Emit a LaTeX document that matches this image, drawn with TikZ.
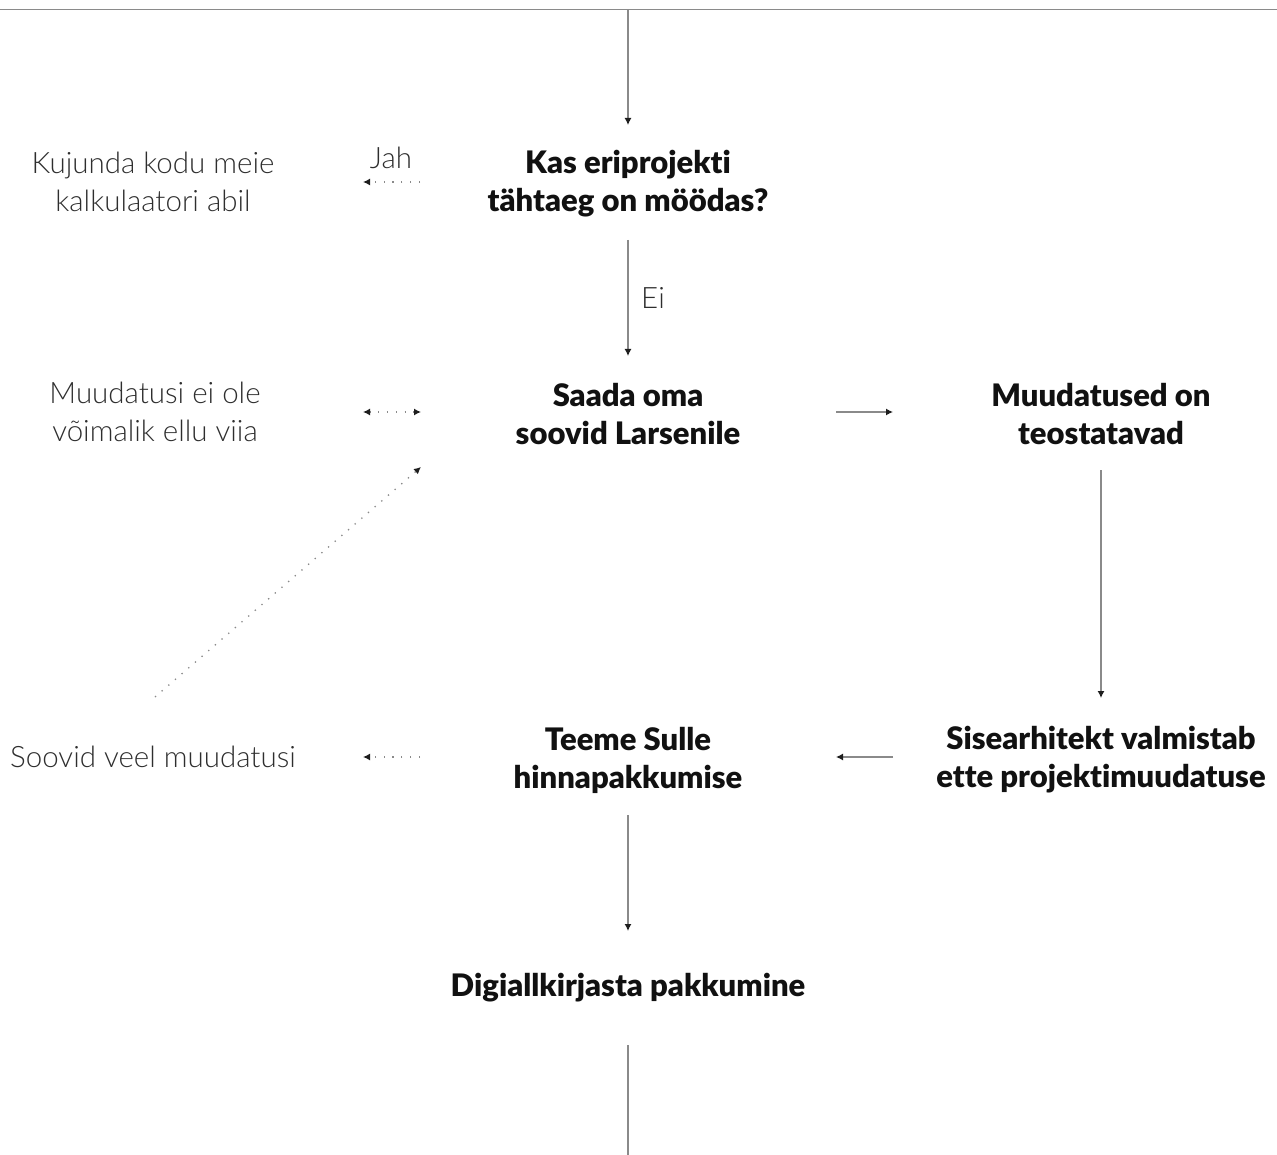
\documentclass[tikz,border=0pt]{standalone}
\usepackage{fontspec}
\setmainfont{Lato}
\newfontfamily\lightf{Lato Light}[RawFeature=-liga]
\newfontfamily\heavyf{Lato Black}[RawFeature=-liga]
\usetikzlibrary{arrows.meta}
\definecolor{linegray}{HTML}{8A8A8A}
\definecolor{tipdark}{HTML}{1E1E1E}
\definecolor{txtdark}{HTML}{111111}
\definecolor{txtlight}{HTML}{2E2E2E}
\tikzset{
  head/.style={font=\heavyf\fontsize{31}{38}\selectfont, text=txtdark, align=center, inner sep=0pt},
  side/.style={font=\lightf\fontsize{29.5}{38}\selectfont, text=txtlight, align=center, inner sep=0pt},
  flow/.style={draw=linegray, line width=1.2pt, -{Latex[length=7pt,width=7pt,color=tipdark]}},
  plain/.style={draw=linegray, line width=1.2pt},
  dotflow/.style={draw=linegray, line width=1.3pt, dash pattern=on 1.3pt off 7.5pt, -{Latex[length=7pt,width=7pt,color=tipdark]}},
  dotboth/.style={draw=linegray, line width=1.3pt, dash pattern=on 1.3pt off 7.5pt, {Latex[length=7pt,width=7pt,color=tipdark]}-{Latex[length=7pt,width=7pt,color=tipdark]}},
}
\begin{document}
\begin{tikzpicture}[x=1pt,y=-1pt]
\useasboundingbox (0,0) rectangle (1277,1155);
% top rule
\coordinate (tl) at (0,9.5);
\coordinate (tr) at (1277,9.5);
\draw[plain] (tl) -- (tr);
% texts
\node[head] (q) at (628,184) {Kas eriprojekti\\tähtaeg on möödas?};
\node[side] (calc) at (153,182) {Kujunda kodu meie\\kalkulaatori abil};
\node[side] (jah) at (391,158) {Jah};
\node[head] (send) at (628,414) {Saada oma\\soovid Larsenile};
\node[side] (no) at (155,412) {Muudatusi ei ole\\võimalik ellu viia};
\node[head] (ok) at (1101,414) {Muudatused on\\teostatavad};
\node[head] (arch) at (1101,760) {Sisearhitekt valmistab\\ette projektimuudatuse};
\node[head] (offer) at (628,760) {Teeme Sulle\\hinnapakkumise};
\node[side] (more) at (153,757) {Soovid veel muudatusi};
\node[head] (sign) at (628,988) {Digiallkirjasta pakkumine};
\node[side] (ei) at (653,298) {Ei};
% coordinates
\coordinate (a0) at (628,10);
\coordinate (a1) at (628,125);
\coordinate (j0) at (420,182);
\coordinate (j1) at (363,182);
\coordinate (e0) at (628,240);
\coordinate (e1) at (628,356);
\coordinate (n0) at (363,412);
\coordinate (n1) at (421,412);
\coordinate (s0) at (836,412);
\coordinate (s1) at (893,412);
\coordinate (k0) at (1101,470);
\coordinate (k1) at (1101,698);
\coordinate (h0) at (893,757);
\coordinate (h1) at (836,757);
\coordinate (m0) at (420,757);
\coordinate (m1) at (363,757);
\coordinate (d0) at (155,697);
\coordinate (d1) at (421,467);
\coordinate (p0) at (628,815);
\coordinate (p1) at (628,931);
\coordinate (z0) at (628,1045);
\coordinate (z1) at (628,1155);
% connectors
\draw[flow] (a0) -- (a1);
\draw[dotflow] (j0) -- (j1);
\draw[flow] (e0) -- (e1);
\draw[dotboth] (n0) -- (n1);
\draw[flow] (s0) -- (s1);
\draw[flow] (k0) -- (k1);
\draw[flow] (h0) -- (h1);
\draw[dotflow] (m0) -- (m1);
\draw[dotflow] (d0) -- (d1);
\draw[flow] (p0) -- (p1);
\draw[plain] (z0) -- (z1);
\end{tikzpicture}
\end{document}
